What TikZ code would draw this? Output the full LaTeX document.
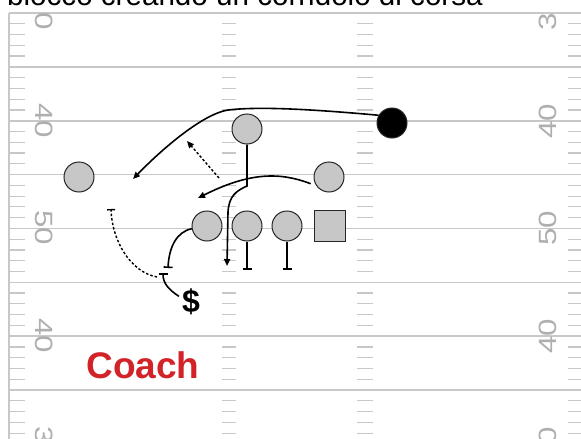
\documentclass[tikz,border=0pt]{standalone}
\usepackage{fontspec}
\setmainfont{Liberation Sans}
\newfontfamily\yardfont[FakeStretch=1.25]{Liberation Sans}
\usetikzlibrary{arrows.meta}

\definecolor{fieldgray}{RGB}{200,200,200}
\definecolor{numgray}{RGB}{175,175,175}
\definecolor{coachred}{RGB}{210,35,40}

\tikzstyle{yardline}=[draw=fieldgray, line width=1.6pt]
\tikzstyle{hash}=[draw=fieldgray, line width=1.2pt]
\tikzstyle{yardnum}=[text=numgray, font={\yardfont\fontsize{25}{25}\selectfont}, inner sep=0pt]
\tikzstyle{player}=[circle, draw=black!85, line width=1pt, fill=black!22, minimum size=30pt, inner sep=0pt]
\tikzstyle{keyman}=[player, fill=black]
\tikzstyle{snapper}=[player, rectangle, minimum size=31pt]
\tikzstyle{route}=[line width=1.6pt, -{Triangle[length=7pt,width=6pt]}]
\tikzstyle{block}=[line width=1.6pt, -{Bar[width=9pt,line width=1.6pt]}]
\tikzstyle{motion}=[line width=1.4pt, dash pattern=on 2.5pt off 2pt]

\begin{document}
\begin{tikzpicture}[x=1pt,y=-1pt]
    \clip (0,0) rectangle (581,439);

    \begin{scope}
        \clip (0,12) rectangle (581,439);
        \foreach \k in {0,...,7}
            \draw[yardline] (9,{13+53.86*\k}) -- (581,{13+53.86*\k});
        \draw[yardline] (9,13) -- (9,439);
        \foreach \k in {0,...,7}
            \foreach \t in {1,...,4}
                \foreach \xa/\xb in {10/25,222/236,357/373,568/581}
                    \draw[hash] (\xa,{13+53.86*\k+10.77*\t}) -- (\xb,{13+53.86*\k+10.77*\t});
        \foreach \y/\n [count=\i] in {13/30,121/40,228/50,336/40,444/30} {
            \node[yardnum, rotate=-90] (numL\i) at (44,\y) {\n};
            \node[yardnum, rotate=90] (numR\i) at (548,\y) {\n};
        }
    \end{scope}

    \node[anchor=base west, inner sep=0pt, font={\fontsize{29.6}{30}\selectfont}] (caption) at (7,5.5) {blocco creando un corridoio di corsa};

    \node[player] (safety) at (79,177) {};
    \node[player] (backer) at (247,129) {};
    \node[keyman] (runner) at (392,123) {};
    \node[player] (wing) at (329,177) {};
    \node[player] (lineA) at (207,226) {};
    \node[player] (lineB) at (247,226) {};
    \node[player] (lineC) at (287,226) {};
    \node[snapper] (snap) at (330,226) {};
    \node[inner sep=3pt, font={\bfseries\fontsize{32}{32}\selectfont}] (cash) at (191,302) {\$};
    \node[anchor=base, inner sep=0pt, text=coachred, font={\bfseries\fontsize{37}{37}\selectfont}] (coach) at (143,378) {Coach};

    \coordinate (runnerEnd) at (133,179);
    \coordinate (dashS) at (219,178);
    \coordinate (dashE) at (187,141);
    \coordinate (backerEnd) at (227,266);
    \coordinate (wingEnd) at (198,198);
    \coordinate (blkA) at (168,268);
    \coordinate (blkB) at (247,270);
    \coordinate (blkC) at (287,270);
    \coordinate (cashBar) at (163,273);
    \coordinate (motS) at (157,277);
    \coordinate (motE) at (111,209);

    \draw[route] (runner.150) .. controls (320,110) and (262,106) .. (228,110)
        .. controls (203,114) and (163,148) .. (runnerEnd);
    \draw[motion, -{Triangle[length=7pt,width=6pt]}] (dashS) -- (dashE);
    \draw[route] (backer.south) -- (247,186) .. controls (236,191) and (229,196) .. (228,212) -- (backerEnd);
    \draw[route, shorten <=6pt] (wing.215) .. controls (280,172) and (250,172) .. (wingEnd);
    \draw[block] (lineB.south) -- (blkB);
    \draw[block] (lineC.south) -- (blkC);
    \draw[block] (lineA.190) .. controls (176,232) and (169,248) .. (blkA);
    \draw[block] (cash.155) .. controls (168,289) and (163,283) .. (cashBar);
    \draw[motion, -{Bar[width=8pt,line width=1.4pt]}] (motS) .. controls (130,272) and (112,240) .. (motE);
\end{tikzpicture}
\end{document}
